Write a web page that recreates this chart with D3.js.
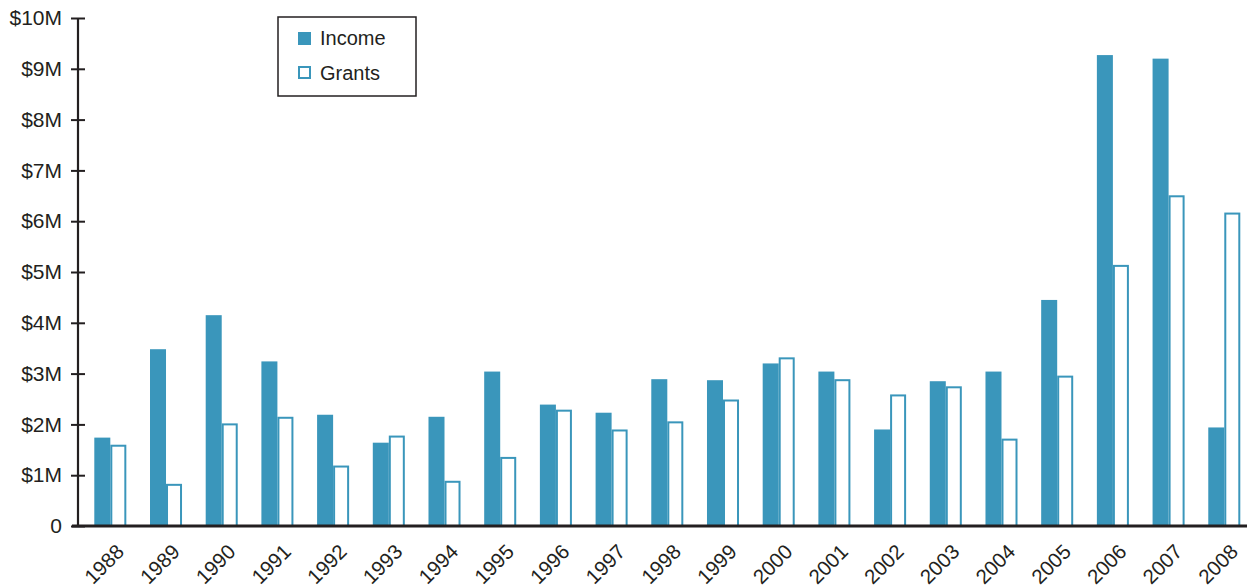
<!DOCTYPE html>
<html>
<head>
<meta charset="utf-8">
<script src="https://cdn.jsdelivr.net/npm/d3@7"></script>
<style>
  body { margin: 0; background: #fff; }
  text { font-family: "Liberation Sans", Arial, sans-serif; fill: #231f20; }
</style>
</head>
<body>
<svg class="chart" width="1247" height="588"></svg>
<script>
// data
const years = ['1988','1989','1990','1991','1992','1993','1994','1995','1996','1997','1998',
               '1999','2000','2001','2002','2003','2004','2005','2006','2007','2008'];
const income = [1.74, 3.48, 4.15, 3.24, 2.19, 1.64, 2.15, 3.04, 2.39, 2.23, 2.89,
                2.87, 3.20, 3.04, 1.90, 2.85, 3.04, 4.45, 9.27, 9.20, 1.94];
const grants = [1.60, 0.83, 2.02, 2.15, 1.19, 1.78, 0.89, 1.36, 2.29, 1.90, 2.06,
                2.49, 3.32, 2.89, 2.59, 2.75, 1.72, 2.96, 5.14, 6.51, 6.17];
const yTicks = [0, 1, 2, 3, 4, 5, 6, 7, 8, 9, 10];
const seriesNames = ['Income', 'Grants'];

const blue = '#3a96bb';
const dark = '#231f20';

const svg = d3.select('.chart');

//scales
const y = d3.scaleLinear().domain([0, 10]).range([526, 18]);
const x = d3.scaleBand()
    .domain(years)
    .range([94.3, 1240.3])
    .paddingInner(0.425)
    .paddingOuter(0);
const x1 = d3.scaleBand().domain(seriesNames).range([0, x.bandwidth()]);

const rows = years.map((yr, i) => ({ year: yr, Income: income[i], Grants: grants[i] }));

//bars
const groups = svg.append('g')
    .selectAll('g')
    .data(rows)
    .join('g')
    .attr('transform', d => `translate(${x(d.year)},0)`);

groups.append('rect')
    .attr('x', x1('Income'))
    .attr('y', d => y(d.Income))
    .attr('width', x1.bandwidth())
    .attr('height', d => y(0) - y(d.Income))
    .attr('fill', blue);

groups.append('rect')
    .attr('x', x1('Grants') + 1)
    .attr('y', d => y(d.Grants) + 1)
    .attr('width', x1.bandwidth() - 2)
    .attr('height', d => y(0) - y(d.Grants) - 1)
    .attr('fill', '#fff')
    .attr('stroke', blue)
    .attr('stroke-width', 2);

//y axis
const yAxis = svg.append('g')
    .attr('transform', 'translate(78,0)')
    .call(d3.axisLeft(y)
        .tickValues(yTicks)
        .tickSize(7)
        .tickFormat(d => d === 0 ? '0' : `$${d}M`));
yAxis.select('.domain').remove();
yAxis.selectAll('.tick line')
    .attr('x1', -7).attr('x2', 7)
    .attr('stroke', dark).attr('stroke-width', 2);
yAxis.selectAll('.tick text')
    .attr('x', -16)
    .attr('font-size', 21)
    .attr('font-family', '"Liberation Sans", Arial, sans-serif');
yAxis.append('line')
    .attr('x1', 0).attr('x2', 0)
    .attr('y1', y(10)).attr('y2', y(0))
    .attr('stroke', dark).attr('stroke-width', 2.2);

//baseline
svg.append('line')
    .attr('x1', 72).attr('x2', 1247)
    .attr('y1', y(0)).attr('y2', y(0))
    .attr('stroke', dark).attr('stroke-width', 3);

//x labels
svg.append('g')
    .selectAll('text')
    .data(years)
    .join('text')
    .attr('transform', d => `translate(${x(d) + x.bandwidth() / 2 + 15},${y(0) + 27}) rotate(-45)`)
    .attr('text-anchor', 'end')
    .attr('font-size', 20.5)
    .text(d => d);

//legend
const legend = svg.append('g').attr('transform', 'translate(278,17)');
legend.append('rect')
    .attr('width', 138).attr('height', 79)
    .attr('fill', '#fff').attr('stroke', dark).attr('stroke-width', 1.5);
legend.append('rect')
    .attr('x', 20).attr('y', 15).attr('width', 13).attr('height', 13)
    .attr('fill', blue);
legend.append('rect')
    .attr('x', 21).attr('y', 50).attr('width', 11).attr('height', 11)
    .attr('fill', '#fff').attr('stroke', blue).attr('stroke-width', 2);
legend.selectAll('text.lg')
    .data(seriesNames)
    .join('text')
    .attr('class', 'lg')
    .attr('x', 42)
    .attr('y', (d, i) => 28 + i * 35)
    .attr('font-size', 20)
    .text(d => d);
</script>
</body>
</html>
